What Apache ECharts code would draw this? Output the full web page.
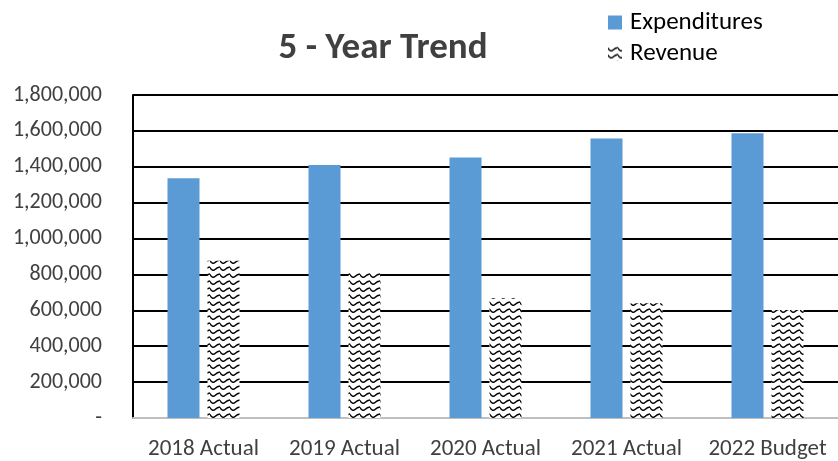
<!DOCTYPE html>
<html>
<head>
<meta charset="utf-8">
<script src="https://cdn.jsdelivr.net/npm/echarts@6/dist/echarts.min.js"></script>
<style>
html,body{margin:0;padding:0;background:#fff;}
#c{width:838px;height:461px;}
</style>
</head>
<body>
<div id="c"></div>
<script>
const categories = ['2018 Actual', '2019 Actual', '2020 Actual', '2021 Actual', '2022 Budget'];
const expenditures = [1336000, 1410000, 1452000, 1558000, 1587000];
const revenue = [877000, 810000, 667000, 640000, 602000];
const yTicks = { min: 0, max: 1800000, interval: 200000 };

function wavePattern() {
  const c = document.createElement('canvas');
  c.width = 10; c.height = 7;
  const g = c.getContext('2d');
  g.fillStyle = '#fff';
  g.fillRect(0, 0, 10, 7);
  g.strokeStyle = '#000';
  g.lineWidth = 1.4;
  g.beginPath();
  g.moveTo(-0.5, 1);
  g.quadraticCurveTo(2.5, 6, 5, 3.5);
  g.quadraticCurveTo(7.5, 1, 10.5, 1);
  g.stroke();
  return c;
}

const chart = echarts.init(document.getElementById('c'), null, { renderer: 'canvas' });
const font = 'Carlito, "Open Sans", "Noto Sans", sans-serif';
chart.setOption({
  animation: false,
  backgroundColor: '#fff',
  title: {
    text: '5 - Year Trend',
    left: 378, top: 25, textAlign: 'center',
    textStyle: { fontFamily: font, fontSize: 37, fontWeight: 'bold', color: '#404040' }
  },
  legend: {
    orient: 'vertical',
    left: 603, top: 5,
    icon: 'rect',
    itemWidth: 14, itemHeight: 14, itemGap: 6,
    textStyle: { fontFamily: font, fontSize: 25, color: '#000', padding: [0, 0, 0, 3] },
    data: ['Expenditures', 'Revenue']
  },
  grid: { left: 133, right: 0, top: 95, bottom: 43, containLabel: false },
  xAxis: {
    type: 'category',
    data: categories,
    axisLine: { lineStyle: { color: '#bfbfbf', width: 2 } },
    axisTick: { show: false },
    axisLabel: { fontFamily: font, fontSize: 23, color: '#404040', margin: 20, interval: 0, hideOverlap: false }
  },
  yAxis: {
    type: 'value',
    min: yTicks.min, max: yTicks.max, interval: yTicks.interval,
    axisLine: { show: true, lineStyle: { color: '#000', width: 2 } },
    axisTick: { show: false },
    splitLine: { lineStyle: { color: '#000', width: 2 } },
    axisLabel: {
      fontFamily: font, fontSize: 22, color: '#404040', margin: 31,
      formatter: v => v === 0 ? '-' : v.toLocaleString('en-US')
    }
  },
  series: [
    {
      name: 'Expenditures', type: 'bar', data: expenditures,
      barWidth: 32, barGap: '25%',
      itemStyle: { color: '#5B9BD5' }
    },
    {
      name: 'Revenue', type: 'bar', data: revenue,
      barWidth: 32,
      itemStyle: { color: { image: wavePattern(), repeat: 'repeat' } }
    }
  ]
});
</script>
</body>
</html>
